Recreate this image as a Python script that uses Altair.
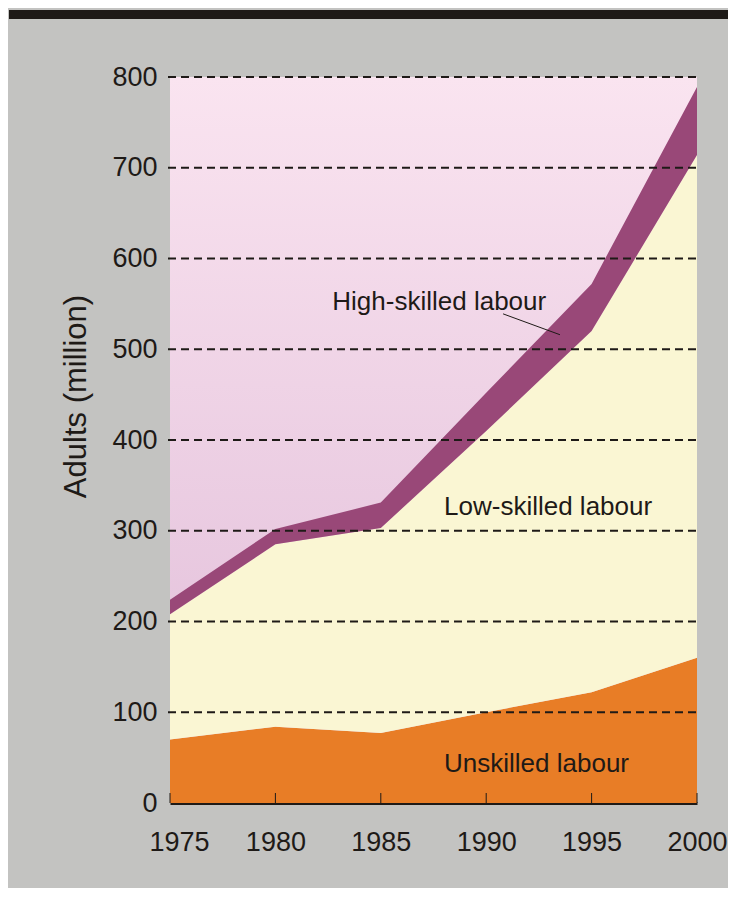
import altair as alt
import pandas as pd

# ---------------- data ----------------
years = [1975, 1980, 1985, 1990, 1995, 2000]
unskilled = [70, 84, 77, 100, 122, 160]
low_skilled = [138, 201, 226, 310, 398, 554]
high_skilled = [16, 17, 28, 42, 52, 75]

series_names = ["Unskilled labour", "Low-skilled labour", "High-skilled labour"]
series_colors = ["#E87D26", "#FAF6D3", "#994878"]

y_ticks = [0, 100, 200, 300, 400, 500, 600, 700, 800]
grid_values = [100, 200, 300, 400, 500, 600, 700, 800]

ann_text = ["High-skilled labour", "Low-skilled labour", "Unskilled labour"]
ann_year = [1982.7, 1988.0, 1988.0]
ann_value = [543, 317, 34]

leader_year = [1990.8]
leader_year2 = [1993.5]
leader_value = [539]
leader_value2 = [516]

# ---------------- styling ----------------
DARK = "#1E1A17"
FONT = "Liberation Sans, Arial, sans-serif"
W, H = 527, 726

rows = []
for i, (name, vals) in enumerate(zip(series_names, [unskilled, low_skilled, high_skilled])):
    for yr, v in zip(years, vals):
        rows.append({"year": yr, "series": name, "value": v, "order": i})
df = pd.DataFrame(rows)

xs = alt.Scale(domain=[1975, 2000], nice=False, zero=False)
ys = alt.Scale(domain=[0, 800], nice=False)

one = pd.DataFrame({"a": [0]})

topbar = alt.Chart(one).mark_rect(color=DARK).encode(
    x=alt.value(-161), x2=alt.value(W + 40), y=alt.value(-67), y2=alt.value(-58)
)

bg = alt.Chart(one).mark_rect(
    fill=alt.Gradient(
        gradient="linear",
        stops=[alt.GradientStop(color="#FAE4F0", offset=0),
               alt.GradientStop(color="#E0BCD8", offset=1)],
        x1=0, x2=0, y1=0, y2=1,
    )
).encode(x=alt.value(0), x2=alt.value(W), y=alt.value(0), y2=alt.value(H))

areas = alt.Chart(df).mark_area(interpolate="linear").encode(
    x=alt.X("year:Q", scale=xs,
            axis=alt.Axis(values=years, format="d", title=None, grid=False, ticks=False,
                          domainColor=DARK, domainWidth=3,
                          labelFont=FONT, labelFontSize=27, labelColor=DARK,
                          labelPadding=26, labelFlush=False, labelOverlap=False, labelBound=False,
                          labelOffset=alt.condition("datum.value == 1975", alt.value(9), alt.value(0)))),
    y=alt.Y("value:Q", stack="zero", scale=ys,
            axis=alt.Axis(values=y_ticks, title="Adults (million)", grid=False, domain=False,
                          ticks=False, labelFont=FONT, labelFontSize=27, labelColor=DARK,
                          labelPadding=13, labelOverlap=False, labelBound=False,
                          titleFont=FONT, titleFontSize=31, titleFontWeight="normal",
                          titleColor=DARK, titleX=-94, titleY=319, titleBaseline="middle")),
    color=alt.Color("series:N", scale=alt.Scale(domain=series_names, range=series_colors), legend=None),
    order=alt.Order("order:Q"),
)

grid = alt.Chart(pd.DataFrame({"v": grid_values})).mark_rule(
    color=DARK, strokeWidth=2, strokeDash=[8, 5]
).encode(y=alt.Y("v:Q", scale=ys), x=alt.value(-2), x2=alt.value(W))

xticks = alt.Chart(pd.DataFrame({"year": years})).mark_rule(color=DARK, strokeWidth=1).encode(
    x=alt.X("year:Q", scale=xs), y=alt.value(H - 10), y2=alt.value(H)
)

labels = alt.Chart(pd.DataFrame({"t": ann_text, "yr": ann_year, "v": ann_value})).mark_text(
    align="left", baseline="alphabetic", font=FONT, fontSize=26, color=DARK
).encode(x=alt.X("yr:Q", scale=xs), y=alt.Y("v:Q", scale=ys), text="t:N")

leader = alt.Chart(pd.DataFrame({"x1": leader_year, "x2": leader_year2,
                                 "y1": leader_value, "y2": leader_value2})).mark_rule(
    color=DARK, strokeWidth=1
).encode(x=alt.X("x1:Q", scale=xs), x2="x2:Q", y=alt.Y("y1:Q", scale=ys), y2="y2:Q")

chart = alt.layer(topbar, bg, areas, grid, xticks, labels, leader).properties(
    width=W, height=H,
    padding={"left": 162, "top": 69, "right": 31, "bottom": 85},
    autosize=alt.AutoSizeParams(type="none"),
    background="#C3C3C1",
).configure_view(stroke=None)

chart.save("out.html", embed_options={"renderer": "svg", "actions": False})
